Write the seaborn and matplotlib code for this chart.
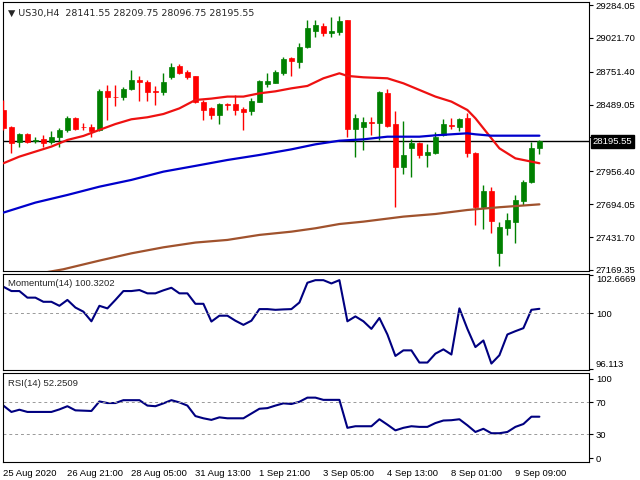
import numpy as np
import pandas as pd
import matplotlib
matplotlib.use("Agg")
import matplotlib.pyplot as plt
import seaborn as sns

sns.set_style("white")
plt.rcParams['font.family'] = ['Liberation Sans', 'DejaVu Sans']

opens = [28446,28313,28194,28255,28201,28212,28194,28228,28287,28380,28313,28313,28287,28601,28553,28553,28611,28686,28672,28601,
         28593,28707,28797,28752,28718,28513,28459,28406,28491,28494,28452,28438,28513,28654,28664,28744,28859,28832,28946,29079,
         29117,29063,29071,29164,28292,28313,28353,28340,28585,28334,27989,28140,28180,28084,28106,28247,28327,28313,28380,28100,
         27675,27802,27308,27504,27552,27720,27872,28141.55]
closes = [28300,28186,28255,28194,28207,28186,28233,28287,28380,28295,28308,28281,28601,28547,28547,28611,28686,28670,28593,28593,
          28672,28792,28744,28707,28513,28446,28406,28494,28486,28446,28433,28518,28680,28678,28752,28851,28837,28946,29098,29122,
          29058,29077,29159,28292,28380,28353,28340,28590,28319,27989,28084,28180,28084,28111,28233,28334,28319,28377,28100,27675,
          27797,27563,27510,27568,27728,27872,28143,28195.55]
highs = [28526,28319,28265,28260,28233,28247,28281,28300,28398,28388,28340,28334,28611,28646,28646,28627,28765,28718,28686,28638,
         28744,28819,28813,28765,28718,28526,28467,28505,28505,28566,28467,28539,28686,28739,28765,28872,28867,28978,29164,29164,
         29143,29191,29196,29164,28414,28393,28388,28601,28611,28441,28356,28212,28194,28175,28273,28372,28380,28380,28425,28114,
         27848,27829,27555,27622,27771,27888,28194,28209.75]
lows = [28287,28100,28154,28186,28186,28154,28175,28154,28273,28287,28287,28233,28281,28366,28478,28526,28606,28521,28521,28486,
        28566,28691,28733,28691,28505,28366,28372,28334,28446,28406,28287,28406,28510,28627,28659,28726,28718,28779,28938,29031,
        29037,29026,29045,28233,28074,28127,28247,28207,28313,27670,27935,27909,28063,27989,28095,28239,28292,28281,28068,27529,
        27494,27467,27201,27449,27382,27688,27861,28096.75]

red_ma_idx = [0,2,4,6,8,10,12,14,16,18,20,22,24,26,28,30,32,34,36,38,40,42,43,45,48,50,52,54,56,58,59,60,61,62,64,66,67]
red_ma_val = [28021,28074,28114,28154,28207,28239,28287,28334,28372,28388,28414,28459,28526,28537,28553,28553,28579,28595,28619,28638,
              28699,28739,28718,28707,28699,28659,28606,28553,28513,28446,28380,28300,28220,28140,28060,28034,28021]
blue_ma_idx = [0,4,8,12,16,20,24,28,32,36,39,42,45,48,52,54,56,58,59,61,67]
blue_ma_val = [27627,27707,27768,27834,27888,27954,28000,28047,28087,28132,28172,28201,28212,28233,28233,28244,28252,28260,28252,28241,28241]
brown_ma_idx = [0,7.5,12,16,20,24,28,32,36,39,42,45,50,54,58,62,67]
brown_ma_val = [27090,27175,27244,27302,27350,27388,27409,27449,27475,27502,27536,27555,27595,27616,27648,27670,27693]

momentum = [101.86,101.56,101.56,101.10,101.10,100.81,100.81,100.53,100.94,100.41,100.12,99.45,100.53,100.35,100.94,101.56,101.56,101.63,101.40,101.40,
            101.61,101.79,101.40,101.40,100.67,100.67,99.43,99.84,99.84,99.49,99.20,99.49,100.30,100.30,100.25,100.28,100.30,100.76,102.14,102.32,
            102.32,102.09,102.32,99.45,99.79,99.45,98.92,99.68,98.53,97.03,97.42,97.42,96.57,96.57,97.19,97.49,97.13,100.35,98.92,97.65,
            98.11,96.50,97.08,98.53,98.76,98.97,100.25,100.32]
rsi = [66,58,60.8,58,58,58,58,61.2,65.2,60,59.6,59.2,71.2,69.2,69.2,72.8,72.8,72.8,66,65.2,
       68.8,72.8,70,66,52.8,50,48,51.2,50,50,50,56,62,62.8,66,68.8,68,70.8,76,76,
       73.2,73.2,73.2,38,40,40,40,48.8,42,34.8,38,40,39.2,39.2,44,47.2,47.6,48.8,41.2,32.8,
       36.8,31.2,31.2,32.8,39.2,42.8,52,52]

date_labels = ["25 Aug 2020","26 Aug 21:00","28 Aug 05:00","31 Aug 13:00","1 Sep 21:00",
               "3 Sep 05:00","4 Sep 13:00","8 Sep 01:00","9 Sep 09:00"]
price_ticks = [29284.05,29021.70,28751.40,28489.05,28226.70,27956.40,27694.05,27431.70,27169.35]

GREEN = "#008000"; RED = "#ff0000"
FS = 6.8
fig = plt.figure(figsize=(6.4,4.8), dpi=100)
L, W = 3/640, 586/640
ax = fig.add_axes([L, 1-271/480, W, 269/480])
axm = fig.add_axes([L, 1-370/480, W, 96/480])
axr = fig.add_axes([L, 1-462/480, W, 89/480])

n = len(opens)
idx = np.arange(n)
df = pd.DataFrame(dict(i=idx, o=opens, c=closes, h=highs, l=lows))
up = df.c >= df.o
cols = np.where(up, GREEN, RED)
ax.vlines(df.i, df.l, df.h, colors=cols, lw=1, zorder=3)
body_b = np.minimum(df.o, df.c)
body_h = np.maximum(np.abs(df.c - df.o), 3)
ax.bar(df.i, body_h, bottom=body_b, width=0.62, color=cols, edgecolor=cols, lw=0.5, zorder=4)

sns.lineplot(x=red_ma_idx, y=red_ma_val, ax=ax, color="#ee1111", lw=1.6, zorder=5)
sns.lineplot(x=blue_ma_idx, y=blue_ma_val, ax=ax, color="#0000cc", lw=1.6, zorder=5)
sns.lineplot(x=brown_ma_idx, y=brown_ma_val, ax=ax, color="#a0522d", lw=1.6, zorder=5)
ax.axhline(28195.55, color="black", lw=1, zorder=2)

xl = (-0.05, 73.2)
ax.set_xlim(*xl)
ax.set_ylim(27161, 29308)
ax.yaxis.tick_right()
ax.set_yticks(price_ticks)
ax.set_yticklabels([f"{t:.2f}" for t in price_ticks])
ax.set_xticks([])
ax.text(0.008, 0.975, "\u25BC US30,H4  28141.55 28209.75 28096.75 28195.55", transform=ax.transAxes,
        fontsize=FS, va="top", ha="left", family=['DejaVu Sans'])
ax.text(1.006, (28195.55-27161)/(29308-27161), "28195.55", transform=ax.transAxes, fontsize=FS,
        color="white", va="center", ha="left", zorder=10,
        bbox=dict(boxstyle="square,pad=0.2", fc="black", ec="black"))

sns.lineplot(x=idx, y=momentum, ax=axm, color="#000080", lw=1.5)
axm.axhline(100, color="#999999", lw=0.7, ls=(0,(3,3)))
axm.set_xlim(*xl)
axm.set_ylim(96.05, 102.75)
axm.yaxis.tick_right()
axm.set_yticks([102.6669, 100, 96.113])
axm.set_yticklabels(["102.6669", "100", "96.113"])
axm.set_xticks([])
axm.text(0.008, 0.95, "Momentum(14) 100.3202", transform=axm.transAxes, fontsize=FS, va="top")

sns.lineplot(x=idx, y=rsi, ax=axr, color="#000080", lw=1.5)
for lv in (70, 30):
    axr.axhline(lv, color="#999999", lw=0.7, ls=(0,(3,3)))
axr.set_xlim(*xl)
axr.set_ylim(-5, 107)
axr.yaxis.tick_right()
axr.set_yticks([100, 70, 30, 0])
axr.set_xticks(np.arange(0, 65, 8))
axr.set_xticklabels(date_labels, ha="left")
axr.text(0.008, 0.93, "RSI(14) 52.2509", transform=axr.transAxes, fontsize=FS, va="top")

for a in (ax, axm, axr):
    a.set_xlabel(""); a.set_ylabel("")
    a.tick_params(axis="both", labelsize=FS, length=3, direction="out", pad=2, colors="black")
    for s in a.spines.values():
        s.set_color("black"); s.set_linewidth(0.8)
axm.get_yticklabels()[0].set_va("top")
axm.get_yticklabels()[2].set_va("bottom")

fig.savefig("out.png", dpi=100)
